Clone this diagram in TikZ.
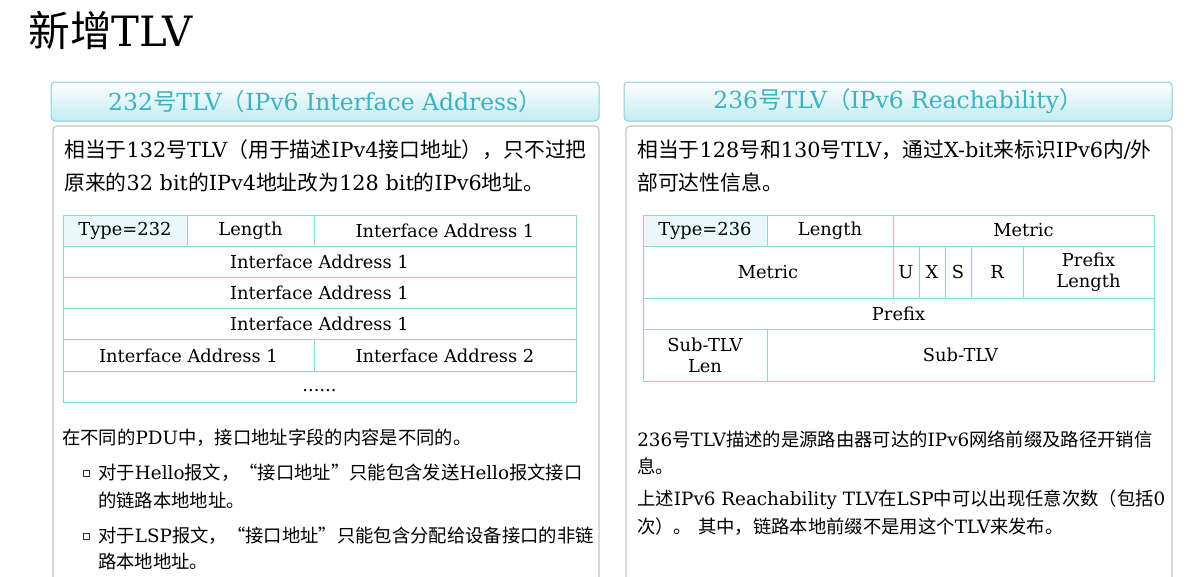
\documentclass[tikz,border=0pt]{standalone}
\usepackage{fontspec}
\setmainfont{DejaVu Serif}
\newfontfamily\cjk{Noto Sans CJK SC}
% switch to the CJK font for ideographs and full-width punctuation
\XeTeXinterchartokenstate=1
\chardef\cjkcls=7
\makeatletter
\def\setcjkrange#1#2{\count@=#1\relax
	\loop\XeTeXcharclass\count@=\cjkcls
	\ifnum\count@<#2\relax\advance\count@ by 1\repeat}
\makeatother
\setcjkrange{"3000}{"303F}
\setcjkrange{"4E00}{"9FFF}
\setcjkrange{"FF00}{"FFEF}
\XeTeXcharclass"201C=\cjkcls
\XeTeXcharclass"201D=\cjkcls
\XeTeXinterchartoks 0 \cjkcls = {\cjk}
\XeTeXinterchartoks 4095 \cjkcls = {\cjk}
\XeTeXinterchartoks \cjkcls 0 = {\rmfamily}
\XeTeXinterchartoks \cjkcls 4095 = {\rmfamily}

\definecolor{tabline}{HTML}{8ED5DE}
\definecolor{typefill}{HTML}{EAF8FA}
\definecolor{headtext}{HTML}{3DB2C2}
\definecolor{headline}{HTML}{86CFDA}
\definecolor{headshade}{HTML}{C2EBF0}
\definecolor{bodyline}{HTML}{C6C6C6}

\begin{document}
\begin{tikzpicture}[x=0.75pt,y=-0.75pt,
	headbox/.style={draw=headline,line width=0.75pt,rounded corners=3pt,top color=white,bottom color=headshade},
	bodybox/.style={draw=bodyline,line width=0.9pt,rounded corners=3pt},
	headtxt/.style={text=headtext,inner sep=0pt,font=\fontsize{17.6}{21}\selectfont},
	leadtxt/.style={anchor=west,inner sep=0pt,font=\fontsize{15.6}{18}\selectfont},
	notetxt/.style={anchor=west,inner sep=0pt,font=\fontsize{13.75}{16}\selectfont},
	cell/.style={draw=tabline,line width=0.75pt},
	celltxt/.style={inner sep=0pt,align=center,font=\fontsize{13.4}{15.6}\selectfont},
	bulletsq/.style={draw=black!80,line width=0.6pt,inner sep=0pt,minimum size=4.5pt}]
	\useasboundingbox (0,0) rectangle (1197,576);
	\clip (0,0) rectangle (1197,576);
	\fill[white] (0,0) rectangle (1197,576);
	
	\node[anchor=west,inner sep=0pt,font=\fontsize{31.3}{37}\selectfont] (title) at (28,30) {新增TLV};
	
	% left panel
	\draw[headbox] (51,82) rectangle node[headtxt] (headL) {232号TLV（IPv6 Interface Address）} (599,121);
	\draw[bodybox] (53,126) rectangle (599,620);
	\node[leadtxt] (leadL1) at (64,150) {相当于132号TLV（用于描述IPv4接口地址），只不过把};
	\node[leadtxt] (leadL2) at (64,183) {原来的32 bit的IPv4地址改为128 bit的IPv6地址。};
	
	\draw[cell,fill=typefill] (63,215) rectangle node[celltxt] (typeL) {Type=232} (187,246.2);
	\draw[cell] (187,215) rectangle node[celltxt] (lenL) {Length} (314,246.2);
	\draw[cell] (314,215) rectangle node[celltxt] (addrL1) {Interface Address 1} (576,246.2);
	\foreach \y/\n in {246.2/2,277.4/3,308.6/4}{
		\draw[cell] (63,\y) rectangle node[celltxt] (addrL\n) {Interface Address 1} (576,\y+31.2);
	}
	\draw[cell] (63,339.8) rectangle node[celltxt] (addrL5) {Interface Address 1} (314,371);
	\draw[cell] (314,339.8) rectangle node[celltxt] (addrL6) {Interface Address 2} (576,371);
	\draw[cell] (63,371) rectangle node[celltxt,yshift=-3pt] (moreL) {......} (576,402.2);
	
	\node[notetxt] (noteL) at (62,438) {在不同的PDU中，接口地址字段的内容是不同的。};
	\node[bulletsq] (bul1) at (86,473) {};
	\node[notetxt] (hello1) at (98,473) {对于Hello报文，“接口地址”只能包含发送Hello报文接口};
	\node[notetxt] (hello2) at (98,500) {的链路本地地址。};
	\node[bulletsq] (bul2) at (86,536) {};
	\node[notetxt] (lsp1) at (98,536) {对于LSP报文，“接口地址”只能包含分配给设备接口的非链};
	\node[notetxt] (lsp2) at (98,562) {路本地地址。};
	
	% right panel
	\draw[headbox] (624,82) rectangle node[headtxt] (headR) {236号TLV（IPv6 Reachability）} (1172,121);
	\draw[bodybox] (626,126) rectangle (1172,620);
	\node[leadtxt] (leadR1) at (637,150) {相当于128号和130号TLV，通过X-bit来标识IPv6内/外};
	\node[leadtxt] (leadR2) at (637,183) {部可达性信息。};
	
	\draw[cell,fill=typefill] (643,215) rectangle node[celltxt] (typeR) {Type=236} (767,246);
	\draw[cell] (767,215) rectangle node[celltxt] (lenR) {Length} (893,246);
	\draw[cell] (893,215) rectangle node[celltxt] (metR1) {Metric} (1154,246);
	\draw[cell] (643,246) rectangle node[celltxt] (metR2) {Metric} (893,298);
	\draw[cell] (893,246) rectangle node[celltxt] (bitU) {U} (919,298);
	\draw[cell] (919,246) rectangle node[celltxt] (bitX) {X} (945,298);
	\draw[cell] (945,246) rectangle node[celltxt] (bitS) {S} (971,298);
	\draw[cell] (971,246) rectangle node[celltxt] (bitR) {R} (1023,298);
	\draw[cell] (1023,246) rectangle node[celltxt] (plen) {Prefix\\Length} (1154,298);
	\draw[cell] (643,298) rectangle node[celltxt] (pfx) {Prefix} (1154,329);
	\draw[cell] (643,329) rectangle node[celltxt] (sublen) {Sub-TLV\\Len} (767,381);
	\draw[cell] (767,329) rectangle node[celltxt] (subtlv) {Sub-TLV} (1154,381);
	
	\node[notetxt] (noteR1) at (637,439) {236号TLV描述的是源路由器可达的IPv6网络前缀及路径开销信};
	\node[notetxt] (noteR2) at (637,466) {息。};
	\node[notetxt] (noteR3) at (637,500) {上述IPv6 Reachability TLV在LSP中可以出现任意次数（包括0};
	\node[notetxt] (noteR4) at (637,527) {次）。 其中，链路本地前缀不是用这个TLV来发布。};
\end{tikzpicture}
\end{document}
